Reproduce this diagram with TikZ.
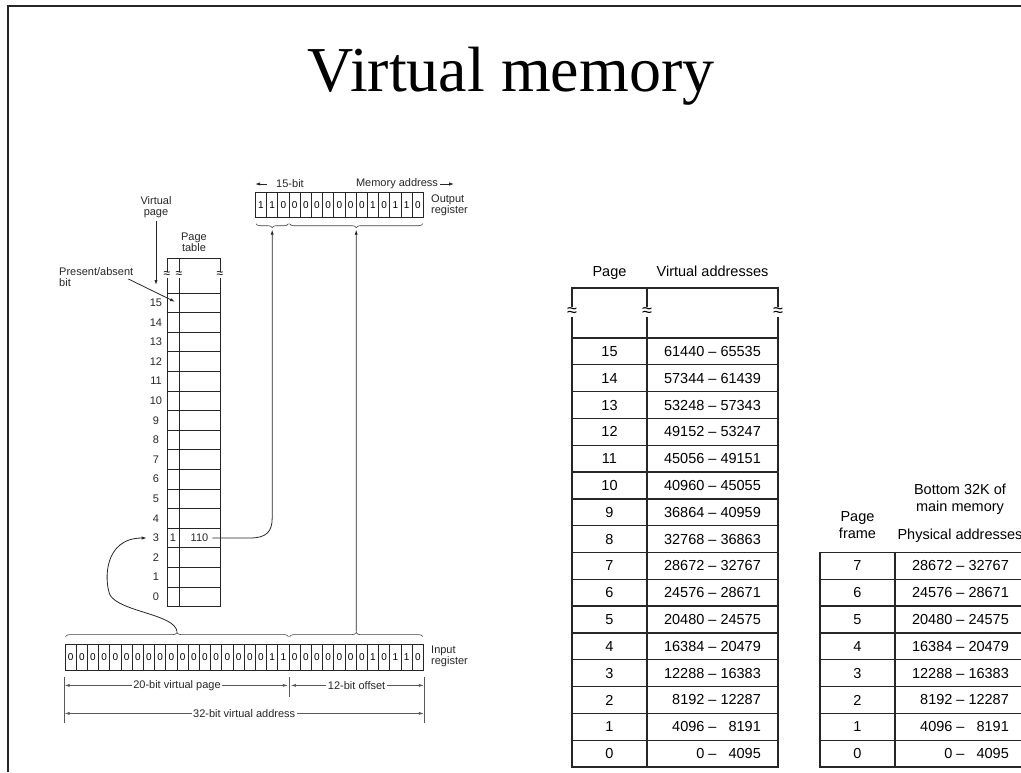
\documentclass[tikz,border=0pt]{standalone}
\usepackage{fontspec}
\setmainfont{Liberation Sans}
\newfontfamily\titlefont{Liberation Serif}
\usetikzlibrary{arrows.meta,decorations.pathreplacing,calc}
\newcommand\vrange[2]{\makebox[2.78em][r]{#1} – \makebox[2.78em][r]{#2}}
\begin{document}
\begin{tikzpicture}[x=1pt,y=-1pt,
  bitcell/.style={draw=black!85, line width=0.8pt, minimum width=11.2pt, inner sep=0pt, font=\fontsize{10}{11}\selectfont},
  ptcell/.style={draw=black!85, line width=0.9pt, inner sep=0pt},
  lbl/.style={font=\fontsize{11}{11}\selectfont, inner sep=0pt, align=center, text=black!85},
  tcell/.style={draw=black!85, line width=1.3pt, inner sep=0pt, font=\fontsize{14.5}{16}\selectfont},
  thead/.style={font=\fontsize{14.5}{17}\selectfont, inner sep=0pt, align=center},
  arr/.style={-{Latex[length=5pt,width=3.2pt]}, line width=0.8pt, draw=black!85},
  dim/.style={{Latex[length=5pt,width=3pt]}-{Latex[length=5pt,width=3pt]}, line width=0.6pt, draw=black!65},
  dimext/.style={line width=0.6pt, draw=black!65},
  brace/.style={decorate, decoration={brace, amplitude=4pt}, line width=0.6pt, draw=black!75},
  brk/.style={fill=white, inner sep=0.2pt, font=\fontsize{12}{12}\selectfont},
  brkb/.style={fill=white, inner sep=0.2pt, font=\fontsize{18}{18}\selectfont}
]
\useasboundingbox (0,0) rectangle (1021,772);
% frame
\coordinate (fbl) at (8,772); \coordinate (ftl) at (8,6); \coordinate (ftr) at (1021,6);
\draw[line width=1.6pt, black!85] (fbl) -- (ftl) -- (ftr);
% title
\node[anchor=base, font=\titlefont\fontsize{64}{64}\selectfont, inner sep=0pt] (title) at (511,91) {Virtual memory};

% output register
\foreach \b [count=\i] in {1,1,0,0,0,0,0,0,0,0,1,0,1,1,0}
  \node[bitcell, minimum height=24.6pt] (out\i) at ({255.4+11.2*(\i-0.5)},205) {\b};
\node[lbl, align=left, anchor=west] (outlbl) at (431,205.5) {Output\\register};
\node[lbl] (b15) at (290,184) {15-bit};
\node[lbl] (madr) at (397,184) {Memory address};
\coordinate (t15) at (out1.west |- b15);
\coordinate (tmr) at ($(madr.east)+(16,0)$);
\draw[arr] ($(b15.west)+(-9,0)$) -- (t15);
\draw[arr] ($(madr.east)+(2,0)$) -- (tmr);
\draw[brace] ($(out3.south east)+(-1,6)$) -- ($(out1.south west)+(1,6)$);
\draw[brace] ($(out15.south east)+(-1,6)$) -- ($(out4.south west)+(1,6)$);
\coordinate (ob1tip) at ($(out1.south west)!0.5!(out3.south east)+(0,12)$);
\coordinate (ob2tip) at ($(out4.south west)!0.5!(out15.south east)+(0,12)$);

% input register
\foreach \b [count=\i] in {0,0,0,0,0,0,0,0,0,0,0,0,0,0,0,0,0,0,1,1,0,0,0,0,0,0,0,1,0,1,1,0}
  \node[bitcell, minimum height=26pt] (in\i) at ({65+11.2*(\i-0.5)},657) {\b};
\node[lbl, align=left, anchor=west] (inlbl) at (431,656.5) {Input\\register};
\draw[brace] ($(in1.north west)+(1,-7)$) -- ($(in20.north east)+(-1,-7)$);
\draw[brace] ($(in21.north west)+(1,-7)$) -- ($(in32.north east)+(-1,-7)$);
\coordinate (b1tip) at ($(in1.north west)!0.5!(in20.north east)+(0,-12)$);
\coordinate (b2tip) at ($(in21.north west)!0.5!(in32.north east)+(0,-12)$);

% dimension lines
\coordinate (xL) at (in1.south west);
\coordinate (xM) at (in20.south east);
\coordinate (xR) at (in32.south east);
\draw[dimext] ($(xL)+(0,7)$) -- ($(xL)+(0,53)$);
\draw[dimext] ($(xM)+(0,7)$) -- ($(xM)+(0,27)$);
\draw[dimext] ($(xR)+(0,7)$) -- ($(xR)+(0,53)$);
\draw[dim] ($(xL)+(0,15)$) -- ($(xM)+(-1.5,15)$);
\draw[dim] ($(xM)+(1.5,15)$) -- ($(xR)+(0,15)$);
\draw[dim] ($(xL)+(0,43)$) -- ($(xR)+(0,43)$);
\node[lbl, fill=white, inner xsep=1.5pt] (d20) at ($(xL)!0.5!(xM)+(0,15)$) {20-bit virtual page};
\node[lbl, fill=white, inner xsep=1.5pt] (d12) at ($(xM)!0.5!(xR)+(0,15)$) {12-bit offset};
\node[lbl, fill=white, inner xsep=1.5pt] (d32) at ($(xL)!0.5!(xR)+(0,43)$) {32-bit virtual address};

% page table
\node[ptcell, minimum width=12pt, minimum height=35pt] (pthp) at (173,275.5) {};
\node[ptcell, minimum width=41pt, minimum height=35pt] (pthf) at (199.5,275.5) {};
\foreach \r in {0,...,15} {
  \pgfmathsetmacro\yc{293+(15-\r)*19.6+9.8}
  \node[ptcell, minimum width=12pt, minimum height=19.6pt] (pp\r) at (173,\yc) {};
  \node[ptcell, minimum width=41pt, minimum height=19.6pt] (pf\r) at (199.5,\yc) {};
  \node[lbl] (pl\r) at (156,\yc) {\r};
}
\node[lbl] (pbit) at (pp3) {1};
\node[lbl] (pval) at (pf3) {110};
\node[brk] (pk1) at (167,275) {≈};
\node[brk] (pk2) at (179,275) {≈};
\node[brk] (pk3) at (220,275) {≈};
\node[lbl] (ptlbl) at (194,242) {Page\\table};
\node[lbl] (vplbl) at (156,207) {Virtual\\page};
\coordinate (vptip) at (156,285);
\draw[arr] ($(vplbl.south)+(0,3)$) -- (vptip);
\node[lbl, align=left, anchor=west] (palbl) at (59,277.5) {Present/absent\\bit};
\draw[arr] ($(palbl.east)+(-5,1.5)$) -- ($(pp15.center)+(2,-1)$);

% connectors
\coordinate (k1) at (250,538);
\coordinate (k2) at ($(ob1tip |- k1)+(0,-20)$);
\draw[arr] ($(pval.east)+(4,0)$) -- (k1) .. controls +(16,0) and +(0,14) .. (k2) -- (ob1tip);
\draw[arr] (b2tip) -- (ob2tip);
\coordinate (cv1) at (110,595);
\draw[arr] (b1tip) .. controls (175,614) and (120,612) .. (cv1) .. controls (104,580) and (104,538) .. ($(pl3.west)+(-6,0)$);

% middle table (virtual addresses)
\node[thead, anchor=base] (mhpage) at (609.5,276) {Page};
\node[thead, anchor=base] (mhvirt) at (712.5,276) {Virtual addresses};
\node[tcell, minimum width=75pt, minimum height=50pt] (mhp) at (609.5,313) {};
\node[tcell, minimum width=131pt, minimum height=50pt] (mha) at (712.5,313) {};
\foreach \r/\lo/\hi in {0/0/4095,1/4096/8191,2/8192/12287,3/12288/16383,4/16384/20479,5/20480/24575,6/24576/28671,7/28672/32767,8/32768/36863,9/36864/40959,10/40960/45055,11/45056/49151,12/49152/53247,13/53248/57343,14/57344/61439,15/61440/65535} {
  \pgfmathsetmacro\yc{767-(\r+0.5)*26.8125}
  \node[tcell, minimum width=75pt, minimum height=26.8125pt] (mp\r) at (609.5,\yc) {\r};
  \node[tcell, minimum width=131pt, minimum height=26.8125pt] (ma\r) at (712.5,\yc) {\vrange{\lo}{\hi}};
}
\node[brkb] (mk1) at (572,312) {≈};
\node[brkb] (mk2) at (647,312) {≈};
\node[brkb] (mk3) at (778,312) {≈};

% right table (physical addresses)
\node[thead] (rhpage) at (857.5,525.5) {Page\\frame};
\node[thead] (rhbot) at (960,499.5) {Bottom 32K of\\main memory};
\node[thead, anchor=base] (rhphys) at (960,539) {Physical addresses};
\foreach \r/\lo/\hi in {0/0/4095,1/4096/8191,2/8192/12287,3/12288/16383,4/16384/20479,5/20480/24575,6/24576/28671,7/28672/32767} {
  \pgfmathsetmacro\yc{767-(\r+0.5)*26.8125}
  \node[tcell, minimum width=75pt, minimum height=26.8125pt] (fp\r) at (857.5,\yc) {\r};
  \node[tcell, minimum width=131pt, minimum height=26.8125pt] (fa\r) at (960.5,\yc) {\vrange{\lo}{\hi}};
}
\end{tikzpicture}
\end{document}
